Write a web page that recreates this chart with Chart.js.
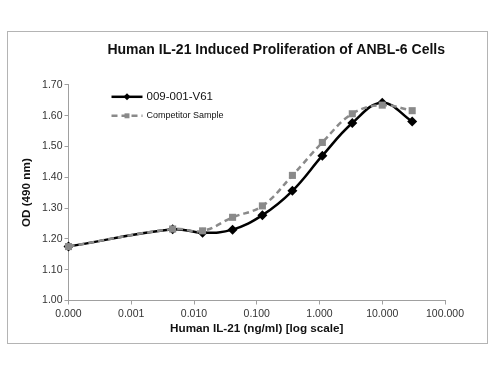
<!DOCTYPE html>
<html>
<head>
<meta charset="utf-8">
<script src="https://cdn.jsdelivr.net/npm/chart.js@4"></script>
<style>
    body { margin: 0; background: #fff; }
    #frame { position: absolute; left: 7px; top: 31px; width: 479px; height: 311px; border: 1px solid #b4b4b4; }
    canvas { display: block; }
</style>
</head>
<body>
<div id="frame"><canvas id="chart" width="479" height="311"></canvas></div>
<script>
// concentrations in ng/ml, the "0" well is plotted at 0.0001 on the log axis
const concentrations = [0.0001, 0.00457, 0.0137, 0.0412, 0.123, 0.370, 1.11, 3.33, 10, 30];
const v61Values = [1.175, 1.231, 1.220, 1.230, 1.277, 1.356, 1.470, 1.576, 1.642, 1.581];
const competitorValues = [1.175, 1.232, 1.226, 1.270, 1.307, 1.406, 1.513, 1.606, 1.634, 1.616];
const seriesNames = ["009-001-V61", "Competitor Sample"];
const xTickValues = [0.0001, 0.001, 0.01, 0.1, 1, 10, 100];
const xTickLabels = ["0.000", "0.001", "0.010", "0.100", "1.000", "10.000", "100.000"];

const FONT = "'Liberation Sans', Arial, sans-serif";
const AXIS_GREY = "#a0a0a0";

function toPoints(values) {
    return values.map((v, i) => ({x: concentrations[i], y: v}));
}

// legend drawn inside the plot area, each entry with its own text size
const insideLegend = {
    id: "insideLegend",
    afterDraw(chart) {
        const ctx = chart.ctx;
        const left = chart.chartArea.left;
        const top = chart.chartArea.top;
        const entries = [
            {ds: chart.data.datasets[0], y: top + 12, size: 11.5},
            {ds: chart.data.datasets[1], y: top + 31, size: 9}
        ];
        entries.forEach((e) => {
            const x0 = left + 43;
            ctx.save();
            ctx.strokeStyle = e.ds.borderColor;
            ctx.lineWidth = e.ds.borderWidth;
            ctx.setLineDash(e.ds.borderDash || []);
            ctx.beginPath();
            ctx.moveTo(x0, e.y);
            ctx.lineTo(x0 + 31, e.y);
            ctx.stroke();
            ctx.setLineDash([]);
            ctx.fillStyle = e.ds.backgroundColor;
            Chart.helpers.drawPoint(ctx, {
                pointStyle: e.ds.pointStyle,
                radius: e.ds.pointRadius * 0.7,
                borderWidth: 0
            }, x0 + 15.5, e.y);
            ctx.fillStyle = "#111";
            ctx.font = e.size + "px " + FONT;
            ctx.textBaseline = "middle";
            ctx.textAlign = "left";
            ctx.fillText(e.ds.label, x0 + 35, e.y);
            ctx.restore();
        });
    }
};

new Chart(document.getElementById("chart"), {
    type: "line",
    data: {
        datasets: [
            {
                label: seriesNames[0],
                data: toPoints(v61Values),
                borderColor: "#000",
                backgroundColor: "#000",
                borderWidth: 2.5,
                tension: 0.4,
                pointStyle: "rectRot",
                pointRadius: 5,
                pointBorderWidth: 0,
                clip: false,
                order: 2
            },
            {
                label: seriesNames[1],
                data: toPoints(competitorValues),
                borderColor: "#8a8a8a",
                backgroundColor: "#8a8a8a",
                borderWidth: 2.5,
                borderDash: [6, 4],
                tension: 0.4,
                pointStyle: "rect",
                pointRadius: 5,
                pointBorderWidth: 0,
                clip: false,
                order: 1
            }
        ]
    },
    options: {
        responsive: false,
        animation: false,
        layout: {padding: {left: 0, right: 42, top: 0, bottom: 0}},
        plugins: {
            legend: {display: false},
            tooltip: {enabled: false},
            title: {
                display: true,
                text: "Human IL-21 Induced Proliferation of ANBL-6 Cells",
                align: "end",
                color: "#111",
                font: {family: FONT, size: 14, weight: "bold"},
                padding: {top: 10, bottom: 26}
            }
        },
        scales: {
            x: {
                type: "logarithmic",
                min: 0.0001,
                max: 100,
                afterBuildTicks: (scale) => {
                    scale.ticks = xTickValues.map((v) => ({value: v}));
                },
                afterFit: (scale) => { scale.height = 42.5; },
                ticks: {
                    autoSkip: false,
                    maxRotation: 0,
                    padding: 3,
                    color: "#333",
                    font: {family: FONT, size: 10.5},
                    callback: (value, index) => xTickLabels[index]
                },
                grid: {drawOnChartArea: false, drawTicks: true, tickLength: 4, color: AXIS_GREY},
                border: {color: AXIS_GREY},
                title: {
                    display: true,
                    text: "Human IL-21 (ng/ml) [log scale]",
                    color: "#111",
                    font: {family: FONT, size: 11.7, weight: "bold"},
                    padding: {top: 0, bottom: 7}
                }
            },
            y: {
                min: 1.0,
                max: 1.7,
                afterFit: (scale) => { scale.width = 60.5; },
                ticks: {
                    stepSize: 0.1,
                    padding: 2,
                    color: "#333",
                    font: {family: FONT, size: 10.5},
                    callback: (value) => value.toFixed(2)
                },
                grid: {drawOnChartArea: false, drawTicks: true, tickLength: 4, color: AXIS_GREY},
                border: {color: AXIS_GREY},
                title: {
                    display: true,
                    text: "OD (490 nm)",
                    color: "#111",
                    font: {family: FONT, size: 11.7, weight: "bold"},
                    padding: {top: 12, bottom: 0}
                }
            }
        }
    },
    plugins: [insideLegend]
});
</script>
</body>
</html>
